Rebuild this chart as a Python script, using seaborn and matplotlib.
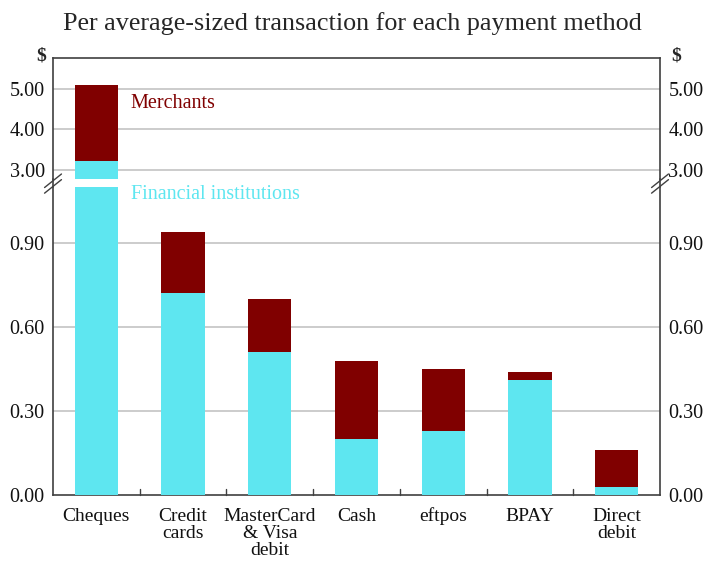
import numpy as np
import pandas as pd
import seaborn as sns
import matplotlib.pyplot as plt
from matplotlib.lines import Line2D

categories = ['Cheques', 'Credit\ncards', 'MasterCard\n& Visa\ndebit', 'Cash', 'eftpos', 'BPAY', 'Direct\ndebit']
financial_institutions = [3.22, 0.72, 0.51, 0.20, 0.23, 0.41, 0.03]
total_cost = [5.10, 0.94, 0.70, 0.48, 0.45, 0.44, 0.16]

top_ticks = [3.0, 4.0, 5.0]
bottom_ticks = [0.0, 0.3, 0.6, 0.9]

fi_color = '#5ee6f0'
merch_color = '#800000'
grid_color = '#c8c8c8'

df = pd.DataFrame({'method': categories, 'fi': financial_institutions, 'total': total_cost})

sns.set_style('white')
plt.rcParams['font.family'] = ['Liberation Serif', 'DejaVu Serif']

fig = plt.figure(figsize=(7.05, 5.64), dpi=100)
ax_top = fig.add_axes([0.0752, 0.6826, 0.861, 0.2146])
ax_bot = fig.add_axes([0.0752, 0.1223, 0.861, 0.5461])

for ax in (ax_top, ax_bot):
    sns.barplot(data=df, x='method', y='total', color=merch_color, width=0.5,
                saturation=1, linewidth=0, ax=ax, zorder=3)
    sns.barplot(data=df, x='method', y='fi', color=fi_color, width=0.5,
                saturation=1, linewidth=0, ax=ax, zorder=3)
    ax.set_xlim(-0.5, len(categories) - 0.5)
    ax.set_xlabel('')
    ax.set_ylabel('')
    for s in ax.spines.values():
        s.set_color('#404040')
        s.set_linewidth(1.2)

ax_top.set_ylim(2.78, 5.76)
ax_bot.set_ylim(0, 1.1)

# top panel
ax_top.spines['bottom'].set_visible(False)
ax_top.set_xticks([])
ax_top.set_yticks(top_ticks)
for t in top_ticks:
    ax_top.axhline(t, color=grid_color, lw=1.3, zorder=1)

# bottom panel
ax_bot.spines['top'].set_visible(False)
ax_bot.set_yticks(bottom_ticks)
for t in bottom_ticks[1:]:
    ax_bot.axhline(t, color=grid_color, lw=1.3, zorder=1)
ax_bot.set_xticks(range(len(categories)))
ax_bot.set_xticklabels(categories, fontsize=14, linespacing=1.0, color='#111111')
ax_bot.tick_params(axis='x', length=0, pad=9)
for b in np.arange(0.5, len(categories) - 0.5, 1):
    ax_bot.plot([b, b], [0, 0.02], color='#404040', lw=1.0, zorder=4, clip_on=False)

for ax in (ax_top, ax_bot):
    ax.tick_params(axis='y', length=0, labelsize=14.5, pad=6, labelcolor='#111111',
                   left=False, right=False, labelleft=True, labelright=True)
    ax.set_yticklabels(['{:.2f}'.format(v) for v in ax.get_yticks()])

# continuous side spines across the gap and break marks
y0 = 0.6684
y1 = 0.6826
for xf in (0.0752, 0.0752 + 0.861):
    fig.add_artist(Line2D([xf, xf], [y0, y1], color='#404040', lw=1.2))
    for dy in (-0.006, 0.004):
        yc = 0.6755 + dy
        fig.add_artist(Line2D([xf - 0.012, xf + 0.012], [yc - 0.012, yc + 0.012],
                              color='#404040', lw=1.0))

ax_top.text(0.128, 0.62, 'Merchants', transform=ax_top.transAxes, color=merch_color,
            fontsize=14.5, va='center', ha='left')
ax_bot.text(0.128, 0.975, 'Financial institutions', transform=ax_bot.transAxes,
            color=fi_color, fontsize=14.5, va='center', ha='left')

fig.text(0.051, 0.9, '$', ha='left', va='center', fontsize=14, fontweight='bold')
fig.text(0.952, 0.9, '$', ha='left', va='center', fontsize=14, fontweight='bold')
fig.text(0.5, 0.958, 'Per average-sized transaction for each payment method',
         ha='center', va='center', fontsize=18.8)

fig.savefig('out.png', dpi=100)
